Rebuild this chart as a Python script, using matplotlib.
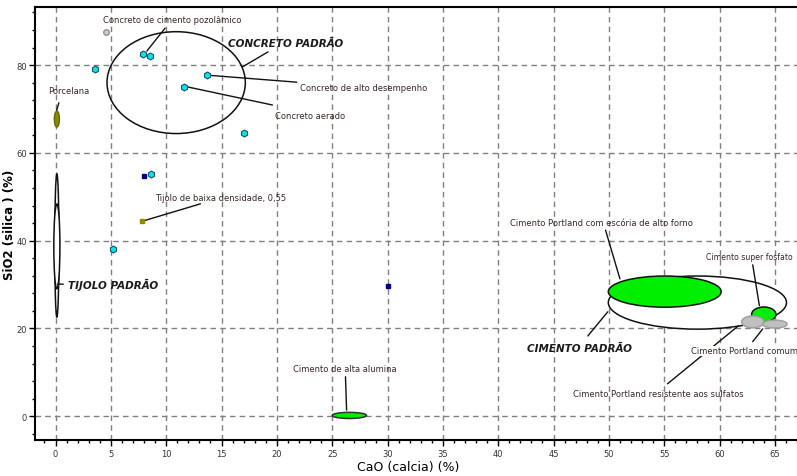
import matplotlib
matplotlib.use('Agg')
import matplotlib.pyplot as plt
from matplotlib.patches import Ellipse
from matplotlib.ticker import MultipleLocator

# pontos individuais (CaO %, SiO2 %)
cyan_x = [3.6, 7.9, 8.5, 13.7, 11.6, 17.0, 8.6, 5.2]
cyan_y = [79.0, 82.5, 82.1, 77.7, 75.1, 64.5, 55.2, 38.0]
navy_x = [8.0, 30.0]
navy_y = [54.7, 29.6]
olive_x = [7.8]
olive_y = [44.4]
gray_x = [4.6]
gray_y = [87.5]

# faixas (elipses): nome, centro CaO, centro SiO2, largura CaO, altura SiO2
ell_names = ['Concreto padrão', 'Porcelana', 'Tijolo padrão', 'Tijolo (faixa central)',
             'Cimento de alta alumina', 'Cimento padrão', 'Escória de alto forno',
             'Super fosfato', 'Portland resistente aos sulfatos', 'Portland comum']
ell_cx = [10.9, 0.12, 0.12, 0.12, 26.55, 58.0, 55.05, 64.0, 63.0, 65.0]
ell_cy = [76.0, 67.7, 38.9, 38.7, 0.2, 25.9, 28.4, 23.2, 21.5, 21.0]
ell_w = [12.5, 0.45, 0.38, 0.55, 3.1, 16.1, 10.2, 2.2, 2.0, 2.2]
ell_h = [23.2, 3.6, 32.6, 19.3, 1.4, 12.1, 7.1, 3.4, 2.7, 1.8]
ell_fill = ['none', '#8b8b00', 'white', 'white', '#00ee00', 'white', '#00ee00',
            '#00ee00', '#c0c0c0', '#c0c0c0']
ell_edge = ['#111111', '#6b6b00', '#111111', '#111111', '#333333', '#111111', '#111111',
            '#111111', '#a0a0a0', '#a0a0a0']

# rótulos: texto, posição do texto, início e fim do traço
labels = ['Concreto de cimento pozolâmico', 'Concreto de alto desempenho', 'Concreto aerado',
          'Porcelana', 'Tijolo de baixa densidade, 0,55', 'Cimento de alta alumina',
          'Cimento Portland com escória de alto forno', 'Cimento super fosfato',
          'Cimento Portland comum', 'Cimento Portland resistente aos sulfatos']
label_x = [4.3, 22.1, 19.8, -0.7, 9.0, 21.5, 41.1, 58.8, 57.4, 46.8]
label_y = [90.4, 74.8, 68.6, 74.1, 49.9, 11.0, 44.2, 36.3, 14.9, 5.1]
label_fs = [6, 6, 6, 6, 6, 6, 6, 5.6, 6, 6]
lead_x0 = [9.9, 13.7, 11.6, 0.3, 7.8, 26.2, 49.7, 63.0, 63.0, 55.3]
lead_y0 = [88.4, 77.7, 75.2, 71.4, 44.4, 9.0, 42.4, 34.5, 17.0, 7.4]
lead_x1 = [8.25, 21.8, 19.6, 0.1, 13.1, 26.3, 51.0, 63.6, 63.9, 61.7]
lead_y1 = [83.2, 76.1, 70.9, 69.7, 48.4, 1.4, 31.3, 25.2, 19.9, 20.6]

groups = ['CONCRETO PADRÃO', 'TIJOLO PADRÃO', 'CIMENTO PADRÃO']
group_x = [15.6, 1.1, 42.6]
group_y = [85.0, 30.1, 15.6]
glead_x0 = [19.2, 0.2, 48.1]
glead_y0 = [83.0, 30.1, 18.3]
glead_x1 = [16.9, 0.7, 49.9]
glead_y1 = [79.6, 30.1, 23.8]

fig = plt.figure(figsize=(7.97, 4.77), dpi=100)
ax = fig.add_axes([0.044, 0.075, 0.956, 0.908])
ax.set_xlim(-1.85, 67.0)
ax.set_ylim(-5.45, 93.2)

for i in range(len(ell_names)):
    ax.add_patch(Ellipse((ell_cx[i], ell_cy[i]), ell_w[i], ell_h[i],
                         facecolor=ell_fill[i], edgecolor=ell_edge[i], lw=1.1, zorder=3))

for i in range(len(labels)):
    ax.annotate('', xy=(lead_x1[i], lead_y1[i]), xytext=(lead_x0[i], lead_y0[i]),
                arrowprops=dict(arrowstyle='-', color='#111111', lw=1.0,
                                shrinkA=0, shrinkB=0), zorder=4)
    bg = dict(facecolor='white', edgecolor='none', pad=0.5) if i == 8 else None
    ax.text(label_x[i], label_y[i], labels[i], fontsize=label_fs[i], color='#3a2626',
            ha='left', va='center', zorder=5, bbox=bg)

for i in range(len(groups)):
    ax.annotate('', xy=(glead_x1[i], glead_y1[i]), xytext=(glead_x0[i], glead_y0[i]),
                arrowprops=dict(arrowstyle='-', color='#111111', lw=1.0,
                                shrinkA=0, shrinkB=0), zorder=4)
    ax.text(group_x[i], group_y[i], groups[i], fontsize=7.5, fontweight='bold',
            fontstyle='italic', color='#1a1a1a', ha='left', va='center', zorder=5)

ax.plot(cyan_x, cyan_y, 'h', ms=5, mfc='#00e5e5', mec='#1f4f6f', mew=0.8, ls='none', zorder=6)
ax.plot(navy_x, navy_y, 's', ms=2.5, mfc='#000080', mec='#000080', ls='none', zorder=6)
ax.plot(olive_x, olive_y, 's', ms=2.5, mfc='#8b8b00', mec='#8b8b00', ls='none', zorder=6)
ax.plot(gray_x, gray_y, 'o', ms=4, mfc='#d0d0d0', mec='#909090', ls='none', zorder=6)

ax.xaxis.set_major_locator(MultipleLocator(5))
ax.xaxis.set_minor_locator(MultipleLocator(1))
ax.yaxis.set_major_locator(MultipleLocator(20))
ax.yaxis.set_minor_locator(MultipleLocator(4))
ax.grid(True, which='major', color='#808080', ls=(0, (4, 3)), lw=1.0)
ax.set_axisbelow(True)
ax.tick_params(which='major', length=4, width=1, labelsize=6, labelcolor='#333333', pad=2)
ax.tick_params(which='minor', length=2, width=1)

for s in ['left', 'bottom', 'top']:
    ax.spines[s].set_linewidth(1.5)
ax.spines['right'].set_visible(False)

ax.set_xlabel('CaO (calcia) (%)', fontsize=9)
ax.set_ylabel('SiO2 (silica ) (%)', fontsize=8.5, fontweight='bold')
ax.xaxis.set_label_coords(0.49, -0.045)
ax.yaxis.set_label_coords(-0.025, 0.5)

plt.savefig('out.png', dpi=100)
